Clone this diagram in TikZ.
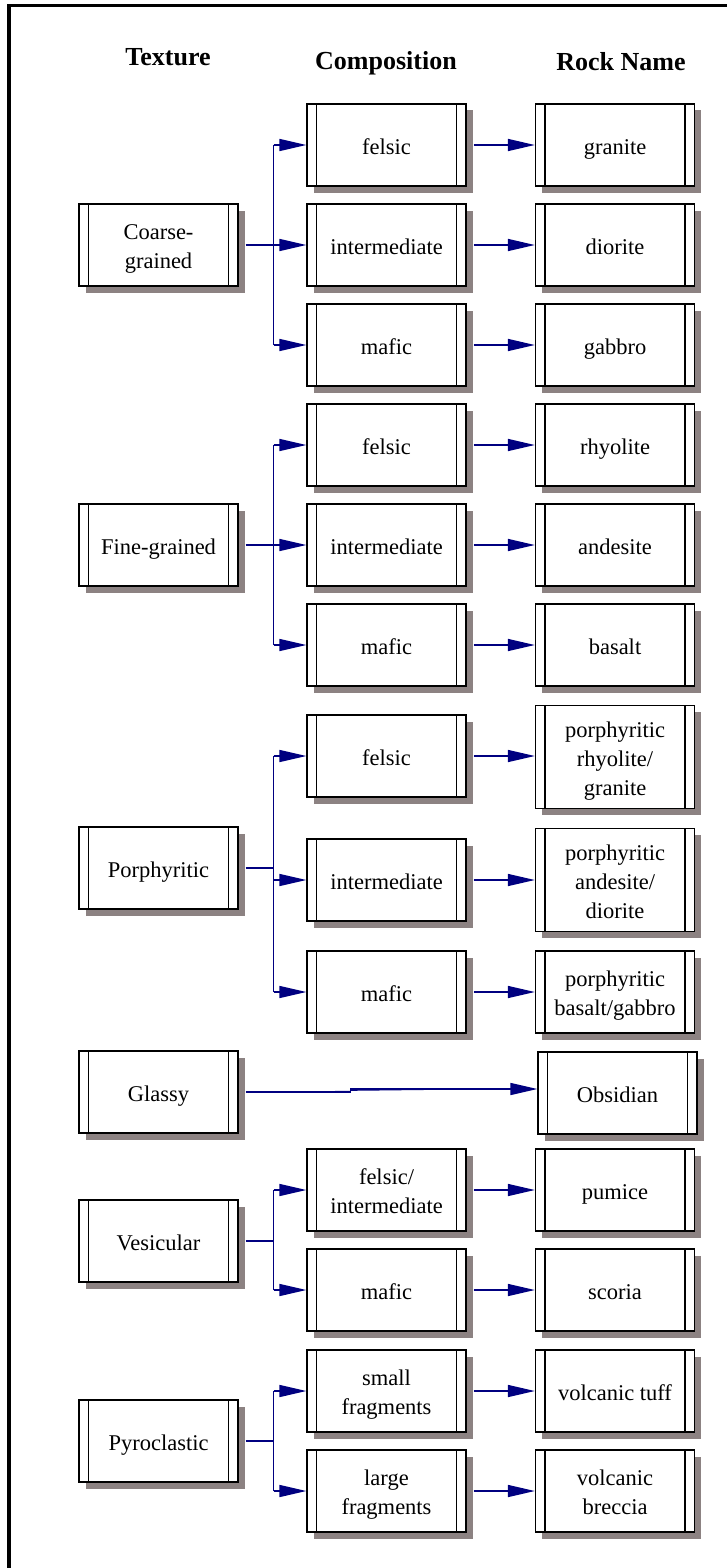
\documentclass[tikz,border=0pt]{standalone}
\usepackage{fontspec}
\setmainfont{Liberation Serif}
\usetikzlibrary{arrows.meta,shadows}
\definecolor{shadowcol}{RGB}{140,130,130}
\definecolor{linkcol}{RGB}{0,0,128}
\newcommand\ls{\rule[-5pt]{0pt}{28pt}}
\begin{document}
\begin{tikzpicture}[x=1pt,y=-1pt,
  box/.style={draw, line width=1.3pt, minimum width=159pt, minimum height=82pt,
    inner sep=0pt, align=center, fill=white,
    font=\fontsize{22.5}{29}\selectfont,
    drop shadow={shadow xshift=6.5pt, shadow yshift=-6.5pt, fill=shadowcol, opacity=1},
    path picture={
      \draw[line width=1.3pt] ([xshift=9.5pt]path picture bounding box.north west) -- ([xshift=9.5pt]path picture bounding box.south west);
      \draw[line width=1.3pt] ([xshift=-9.5pt]path picture bounding box.north east) -- ([xshift=-9.5pt]path picture bounding box.south east);
    }},
  tallbox/.style={box, minimum height=103pt},
  header/.style={font=\fontsize{26}{30}\selectfont\bfseries, anchor=base, inner sep=0pt},
  conn/.style={draw=linkcol, line width=1.5pt},
  arr/.style={conn, -{Triangle[length=27pt,width=12pt]}, fill=linkcol},
]
\useasboundingbox (0,0) rectangle (727,1568);
\draw[line width=3.5pt] (9,1600) -- (9,5.5) -- (760,5.5);

% headers
\node[header] (h1) at (168,66) {Texture};
\node[header] (h2) at (386,70) {Composition};
\node[header] (h3) at (621,71) {Rock Name};

% Coarse-grained
\node[box] (t1) at (158.5,245) {\ls Coarse-\\\ls grained};
\node[box] (c11) at (386.5,145) {\ls felsic};
\node[box] (c12) at (386.5,245) {\ls intermediate};
\node[box] (c13) at (386.5,345) {\ls mafic};
\node[box] (r11) at (615,145) {\ls granite};
\node[box] (r12) at (615,245) {\ls diorite};
\node[box] (r13) at (615,345) {\ls gabbro};

% Fine-grained
\node[box] (t2) at (158.5,545) {\ls Fine-grained};
\node[box] (c21) at (386.5,445) {\ls felsic};
\node[box] (c22) at (386.5,545) {\ls intermediate};
\node[box] (c23) at (386.5,645) {\ls mafic};
\node[box] (r21) at (615,445) {\ls rhyolite};
\node[box] (r22) at (615,545) {\ls andesite};
\node[box] (r23) at (615,645) {\ls basalt};

% Porphyritic
\node[box] (t3) at (158.5,868) {\ls Porphyritic};
\node[box] (c31) at (386.5,756) {\ls felsic};
\node[box] (c32) at (386.5,880) {\ls intermediate};
\node[box] (c33) at (386.5,992) {\ls mafic};
\node[tallbox] (r31) at (615,757) {\ls porphyritic\\\ls rhyolite/\\\ls granite};
\node[tallbox] (r32) at (615,880) {\ls porphyritic\\\ls andesite/\\\ls diorite};
\node[box] (r33) at (615,992) {\ls porphyritic\\\ls basalt/gabbro};

% Glassy
\node[box] (t4) at (158.5,1092) {\ls Glassy};
\node[box] (r41) at (617.5,1093) {\ls Obsidian};

% Vesicular
\node[box] (t5) at (158.5,1241) {\ls Vesicular};
\node[box] (c51) at (386.5,1190) {\ls felsic/\\\ls intermediate};
\node[box] (c52) at (386.5,1290) {\ls mafic};
\node[box] (r51) at (615,1190) {\ls pumice};
\node[box] (r52) at (615,1290) {\ls scoria};

% Pyroclastic
\node[box] (t6) at (158.5,1441) {\ls Pyroclastic};
\node[box] (c61) at (386.5,1391) {\ls small\\\ls fragments};
\node[box] (c62) at (386.5,1491) {\ls large\\\ls fragments};
\node[box] (r61) at (615,1391) {\ls volcanic tuff};
\node[box] (r62) at (615,1491) {\ls volcanic\\\ls breccia};

\coordinate (jx) at (273.5,0);

% connectors: texture -> composition
\foreach \t/\a/\b in {t1/c11/c13, t2/c21/c23, t3/c31/c33, t5/c51/c52, t6/c61/c62}{
  \draw[conn] ([xshift=7pt]\t.east) -- (jx |- \t.east);
  \draw[conn] (jx |- \a.west) -- (jx |- \b.west);
}
\foreach \c in {c11,c12,c13,c21,c22,c23,c31,c32,c33,c51,c52,c61,c62}{
  \draw[arr] (jx |- \c.west) -- (\c.west);
}
% composition -> rock
\foreach \c/\r in {c11/r11,c12/r12,c13/r13,c21/r21,c22/r22,c23/r23,c31/r31,c32/r32,c33/r33,c51/r51,c52/r52,c61/r61,c62/r62}{
  \draw[arr] ([xshift=7pt]\c.east) -- (\c.east -| \r.west);
}
% glassy
\draw[arr] ([xshift=7pt]t4.east) -| (350.5,1089) -- ([yshift=4pt]r41.west);
\end{tikzpicture}
\end{document}
